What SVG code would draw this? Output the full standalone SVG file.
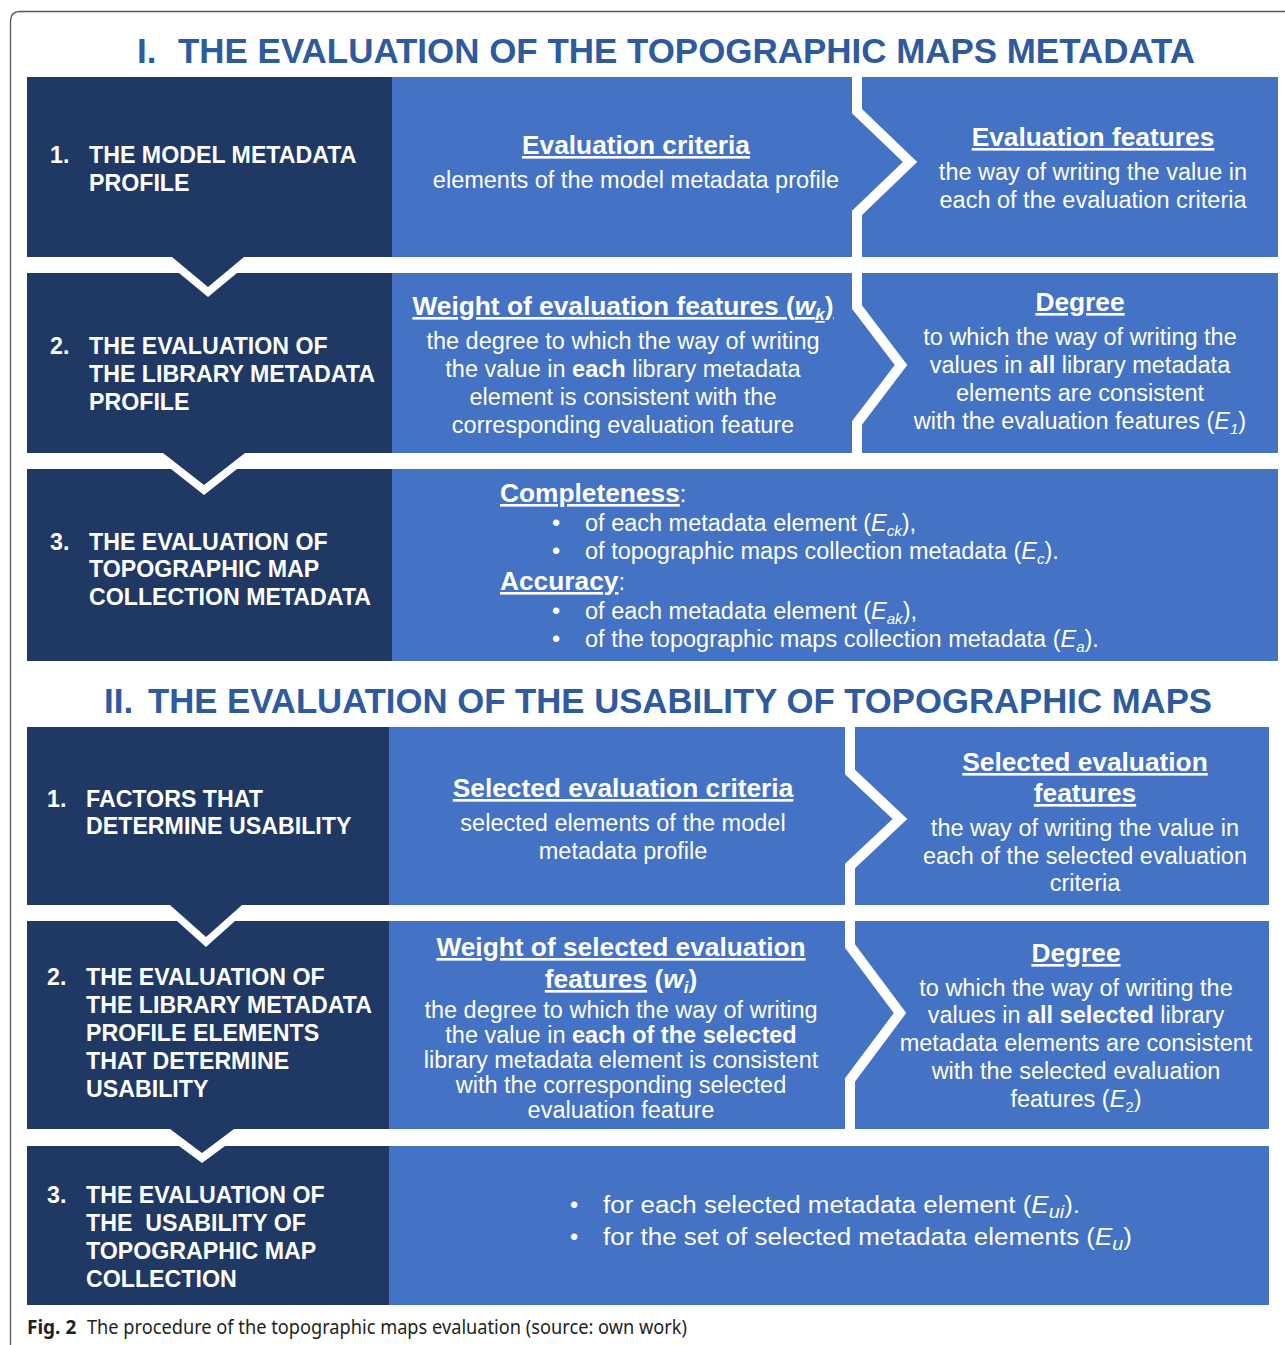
<svg xmlns="http://www.w3.org/2000/svg" width="1285" height="1345" viewBox="0 0 1285 1345">
<style>
.dk{fill:#203864}
.bl{fill:#4472C4}
.lt{font-family:"Liberation Sans",Arial,sans-serif;font-weight:bold;font-size:23.2px;fill:#fff}
.h{font-family:"Liberation Sans",Arial,sans-serif;font-weight:bold;font-size:26.3px;fill:#fff;text-anchor:middle}
.u{text-decoration:underline}
.b{font-family:"Liberation Sans",Arial,sans-serif;font-size:23.5px;fill:#fff;text-anchor:middle}
.l{font-family:"Liberation Sans",Arial,sans-serif;font-size:23.5px;fill:#fff}
.title{font-family:"Liberation Sans",Arial,sans-serif;font-weight:bold;font-size:35px;fill:#2E5A9E}
.chev{fill:none;stroke:#fff;stroke-width:10;stroke-linejoin:miter;stroke-miterlimit:10}
.cap{font-family:"Noto Sans","Open Sans",sans-serif;font-size:19px;fill:#231f20}
</style>
<rect width="1285" height="1345" fill="#fff"/>
<path d="M10.5,1345 V21 Q10.5,11.5 20,11.5 H1285" fill="none" stroke="#555" stroke-width="1.3"/>

<g id="title1">
<text class="title" x="137" y="63">I.</text>
<text class="title" x="178" y="63" textLength="1017" lengthAdjust="spacingAndGlyphs">THE EVALUATION OF THE TOPOGRAPHIC MAPS METADATA</text>
</g>

<g id="s1r1">
<polygon class="dk" points="27,77 392,77 392,257 244,257 208,287 172,257 27,257"/>
<rect class="bl" x="392" y="77" width="886" height="180"/>
<text class="lt" x="50" y="163">1.</text>
<text class="lt" x="89" y="163">THE MODEL METADATA</text>
<text class="lt" x="89" y="191">PROFILE</text>
<text class="h u" x="636" y="154">Evaluation criteria</text>
<text class="b" x="636" y="188">elements of the model metadata profile</text>
<text class="h u" x="1093" y="146">Evaluation features</text>
<text class="b" x="1093" y="180">the way of writing the value in</text>
<text class="b" x="1093" y="208">each of the evaluation criteria</text>
</g>

<g id="s1r2">
<polygon class="dk" points="27,273 179,273 208,297 237,273 392,273 392,453 245,453 204,485 163,453 27,453"/>
<rect class="bl" x="392" y="273" width="886" height="180"/>
<text class="lt" x="50" y="354">2.</text>
<text class="lt" x="89" y="354">THE EVALUATION OF</text>
<text class="lt" x="89" y="382">THE LIBRARY METADATA</text>
<text class="lt" x="89" y="410">PROFILE</text>
<text class="h u" x="623" y="315">Weight of evaluation features (<tspan font-style="italic">w</tspan><tspan font-style="italic" font-size="17" dy="5">k</tspan><tspan dy="-5">)</tspan></text>
<text class="b" x="623" y="349">the degree to which the way of writing</text>
<text class="b" x="623" y="377">the value in <tspan font-weight="bold">each</tspan> library metadata</text>
<text class="b" x="623" y="405">element is consistent with the</text>
<text class="b" x="623" y="433">corresponding evaluation feature</text>
<text class="h u" x="1080" y="311">Degree</text>
<text class="b" x="1080" y="345">to which the way of writing the</text>
<text class="b" x="1080" y="373">values in <tspan font-weight="bold">all</tspan> library metadata</text>
<text class="b" x="1080" y="401">elements are consistent</text>
<text class="b" x="1080" y="429">with the evaluation features (<tspan font-style="italic">E</tspan><tspan font-style="italic" font-size="15" dy="5">1</tspan><tspan dy="-5">)</tspan></text>
</g>

<g id="s1r3">
<polygon class="dk" points="27,469 171,469 204,495 237,469 392,469 392,661 27,661"/>
<rect class="bl" x="392" y="469" width="886" height="192"/>
<text class="lt" x="50" y="550">3.</text>
<text class="lt" x="89" y="550">THE EVALUATION OF</text>
<text class="lt" x="89" y="577">TOPOGRAPHIC MAP</text>
<text class="lt" x="89" y="605">COLLECTION METADATA</text>
<text class="l" x="500" y="502"><tspan class="u" font-weight="bold" font-size="26.3">Completeness</tspan>:</text>
<text class="l" x="552" y="531">•</text>
<text class="l" x="585" y="531">of each metadata element (<tspan font-style="italic">E</tspan><tspan font-style="italic" font-size="15" dy="5">ck</tspan><tspan dy="-5">),</tspan></text>
<text class="l" x="552" y="559">•</text>
<text class="l" x="585" y="559">of topographic maps collection metadata (<tspan font-style="italic">E</tspan><tspan font-style="italic" font-size="15" dy="5">c</tspan><tspan dy="-5">).</tspan></text>
<text class="l" x="500" y="590"><tspan class="u" font-weight="bold" font-size="26.3">Accuracy</tspan>:</text>
<text class="l" x="552" y="619">•</text>
<text class="l" x="585" y="619">of each metadata element (<tspan font-style="italic">E</tspan><tspan font-style="italic" font-size="15" dy="5">ak</tspan><tspan dy="-5">),</tspan></text>
<text class="l" x="552" y="647">•</text>
<text class="l" x="585" y="647">of the topographic maps collection metadata (<tspan font-style="italic">E</tspan><tspan font-style="italic" font-size="15" dy="5">a</tspan><tspan dy="-5">).</tspan></text>
</g>

<g id="title2">
<text class="title" x="104" y="713">II.</text>
<text class="title" x="148" y="713" textLength="1064" lengthAdjust="spacingAndGlyphs">THE EVALUATION OF THE USABILITY OF TOPOGRAPHIC MAPS</text>
</g>

<g id="s2r1">
<polygon class="dk" points="27,727 389,727 389,905 242,905 206,937 170,905 27,905"/>
<rect class="bl" x="389" y="727" width="880" height="178"/>
<text class="lt" x="47" y="807">1.</text>
<text class="lt" x="86" y="807">FACTORS THAT</text>
<text class="lt" x="86" y="834">DETERMINE USABILITY</text>
<text class="h u" x="623" y="797">Selected evaluation criteria</text>
<text class="b" x="623" y="831">selected elements of the model</text>
<text class="b" x="623" y="859">metadata profile</text>
<text class="h u" x="1085" y="771">Selected evaluation</text>
<text class="h u" x="1085" y="802">features</text>
<text class="b" x="1085" y="836">the way of writing the value in</text>
<text class="b" x="1085" y="864">each of the selected evaluation</text>
<text class="b" x="1085" y="891">criteria</text>
</g>

<g id="s2r2">
<polygon class="dk" points="27,921 177,921 206,947 235,921 389,921 389,1129 234,1129 202,1153 170,1129 27,1129"/>
<rect class="bl" x="389" y="921" width="880" height="208"/>
<text class="lt" x="47" y="985">2.</text>
<text class="lt" x="86" y="985">THE EVALUATION OF</text>
<text class="lt" x="86" y="1013">THE LIBRARY METADATA</text>
<text class="lt" x="86" y="1041">PROFILE ELEMENTS</text>
<text class="lt" x="86" y="1069">THAT DETERMINE</text>
<text class="lt" x="86" y="1097">USABILITY</text>
<text class="h u" x="621" y="956">Weight of selected evaluation</text>
<text class="h" x="621" y="988"><tspan class="u">features</tspan> (<tspan font-style="italic">w</tspan><tspan font-style="italic" font-size="17" dy="5">i</tspan><tspan dy="-5">)</tspan></text>
<text class="b" x="621" y="1018" font-size="23.2">the degree to which the way of writing</text>
<text class="b" x="621" y="1043" font-size="23.2">the value in <tspan font-weight="bold">each of the selected</tspan></text>
<text class="b" x="621" y="1068" font-size="23.2">library metadata element is consistent</text>
<text class="b" x="621" y="1093" font-size="23.2">with the corresponding selected</text>
<text class="b" x="621" y="1118" font-size="23.2">evaluation feature</text>
<text class="h u" x="1076" y="962">Degree</text>
<text class="b" x="1076" y="996">to which the way of writing the</text>
<text class="b" x="1076" y="1023">values in <tspan font-weight="bold">all selected</tspan> library</text>
<text class="b" x="1076" y="1051">metadata elements are consistent</text>
<text class="b" x="1076" y="1079">with the selected evaluation</text>
<text class="b" x="1076" y="1107">features (<tspan font-style="italic">E</tspan><tspan font-size="15" dy="5">2</tspan><tspan dy="-5">)</tspan></text>
</g>

<g id="s2r3">
<polygon class="dk" points="27,1146 179,1146 202,1163 225,1146 389,1146 389,1305 27,1305"/>
<rect class="bl" x="389" y="1146" width="880" height="159"/>
<text class="lt" x="47" y="1203">3.</text>
<text class="lt" x="86" y="1203">THE EVALUATION OF</text>
<text class="lt" x="86" y="1231" xml:space="preserve">THE  USABILITY OF</text>
<text class="lt" x="86" y="1259">TOPOGRAPHIC MAP</text>
<text class="lt" x="86" y="1287">COLLECTION</text>
<text class="l" x="570" y="1213" font-size="27">•</text>
<text class="l" x="603" y="1213" font-size="27" textLength="477" lengthAdjust="spacingAndGlyphs">for each selected metadata element (<tspan font-style="italic">E</tspan><tspan font-style="italic" font-size="18" dy="5">ui</tspan><tspan dy="-5">).</tspan></text>
<text class="l" x="570" y="1245" font-size="27">•</text>
<text class="l" x="603" y="1245" font-size="27" textLength="529" lengthAdjust="spacingAndGlyphs">for the set of selected metadata elements (<tspan font-style="italic">E</tspan><tspan font-style="italic" font-size="18" dy="5">u</tspan><tspan dy="-5">)</tspan></text>
</g>

<g id="connectors">
<polyline class="chev" points="857,77 857,111 910,162 857,213 857,257"/>
<polyline class="chev" points="857,273 857,307 901,365 857,423 857,453"/>
<polyline class="chev" points="850,727 850,772 900,819 850,866 850,905"/>
<polyline class="chev" points="850,921 850,946 900,1013 850,1080 850,1129"/>
</g>

<g id="caption">
<text class="cap" x="27" y="1334" font-weight="bold">Fig. 2</text>
<text class="cap" x="87" y="1334" textLength="600" lengthAdjust="spacingAndGlyphs">The procedure of the topographic maps evaluation (source: own work)</text>
</g>
</svg>
